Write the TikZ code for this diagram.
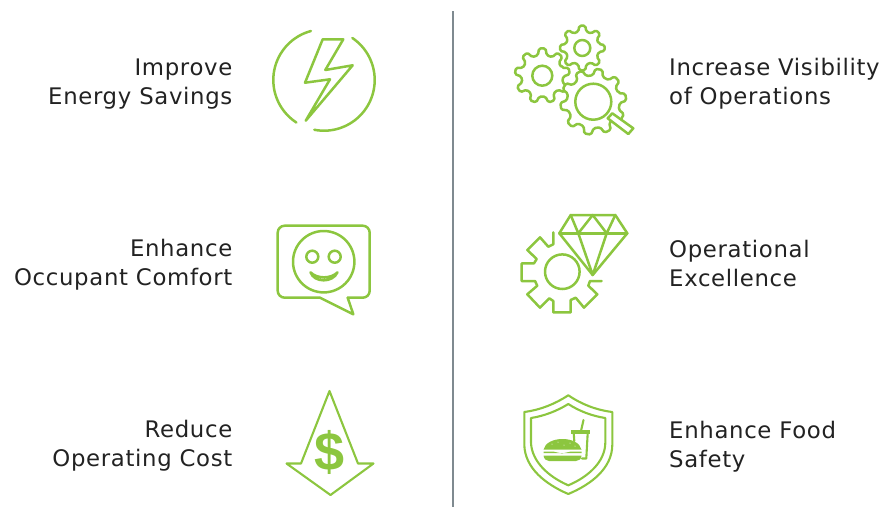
\documentclass[tikz,border=0pt]{standalone}
\usepackage{fontspec}
\setmainfont{DejaVu Sans}[LetterSpace=2.9]
\newfontfamily\dollarfont{Liberation Sans}
\definecolor{leaf}{HTML}{8CC63F}
\definecolor{rulegray}{HTML}{7F8A90}
\definecolor{inkk}{HTML}{222222}
\newcommand{\gearpath}[6]{% cx cy Rout Rin teeth phase
  \pgfmathsetmacro{\gstep}{360/#5}
  \pgfmathsetmacro{\glast}{#5-1}
  \draw[icon,fill=white,rounded corners=1.6pt]
    ({#1+#4*cos(#6-0.30*\gstep)},{#2+#4*sin(#6-0.30*\gstep)})
    \foreach \gi in {0,...,\glast}{
      -- ({#1+#3*cos(#6+\gi*\gstep-0.17*\gstep)},{#2+#3*sin(#6+\gi*\gstep-0.17*\gstep)})
      -- ({#1+#3*cos(#6+\gi*\gstep+0.17*\gstep)},{#2+#3*sin(#6+\gi*\gstep+0.17*\gstep)})
      -- ({#1+#4*cos(#6+\gi*\gstep+0.30*\gstep)},{#2+#4*sin(#6+\gi*\gstep+0.30*\gstep)})
      -- ({#1+#4*cos(#6+\gi*\gstep+0.70*\gstep)},{#2+#4*sin(#6+\gi*\gstep+0.70*\gstep)})
    } -- cycle;
}
\tikzset{
  icon/.style={draw=leaf,line width=2.5pt,line join=round,line cap=round},
  thin icon/.style={draw=leaf,line width=2.1pt,line join=round,line cap=round},
  lefttext/.style={anchor=east,align=right,text=inkk,font=\fontsize{22.8}{29}\selectfont,inner sep=0pt},
  righttext/.style={anchor=west,align=left,text=inkk,font=\fontsize{22.8}{29}\selectfont,inner sep=0pt},
}
\begin{document}
\begin{tikzpicture}[x=1pt,y=-1pt]
\useasboundingbox (0,0) rectangle (879,507);
\coordinate (ruleTop) at (452.5,11);
\coordinate (ruleBot) at (452.5,507);
\draw[rulegray,line width=2pt] (ruleTop) -- (ruleBot);
\node[lefttext] (t1) at (232.5,84.5) {Improve\\Energy Savings};
\node[lefttext] (t2) at (232.5,264.5) {Enhance\\Occupant Comfort};
\node[lefttext] (t3) at (232.5,445.5) {Reduce\\Operating Cost};
\node[righttext] (t4) at (669,83.5) {Increase Visibility\\of Operations};
\node[righttext] (t5) at (669,263.5) {Operational\\Excellence};
\node[righttext] (t6) at (669,446.5) {Enhance Food\\Safety};
% energy
\draw[icon] plot[domain=105:237,samples=40] ({324+50.7*cos(\x)},{80-50.7*sin(\x)});
\draw[icon] plot[domain=56:-101,samples=50] ({324+50.7*cos(\x)},{80-50.7*sin(\x)});
\draw[icon] (322.7,39.3) -- (343.3,39.3) -- (325.3,70) -- (352.7,65.3) -- (305.7,120.7) -- (330,79.3) -- (305,82.7) -- cycle;
% gears
\gearpath{582.3}{48}{22.5}{17}{8}{0}
\draw[icon] (582.3,48) circle[radius=8];
\gearpath{542.3}{75.7}{27.5}{21}{9}{-10}
\draw[icon] (542.3,75.7) circle[radius=10];
\gearpath{593.3}{101.7}{33}{26.5}{10}{-8}
\draw[icon,fill=white] (612.3,113.3) -- (633.3,128.3) -- (628.3,134) -- (607.7,118.3) -- cycle;
\draw[icon,fill=white] (593.3,101.7) circle[radius=18];
% bubble
\draw[icon,rounded corners=7pt] (320,297.7) -- (277.7,297.7) -- (277.7,225.7) -- (369.7,225.7) -- (369.7,297.7) -- (347.7,297.7);
\draw[icon] (320,297.7) -- (353.3,314.3) -- (347.7,297.7);
\draw[icon] (323.7,261.7) circle[radius=30.7];
\draw[icon] (312.3,256.7) circle[radius=6];
\draw[icon] (334.7,256.7) circle[radius=6];
\draw[icon] (310.5,272.3) .. controls (314,283) and (333,283) .. (337.5,272.3) .. controls (331,279) and (317,279) .. cycle;
% diamond and gear
\draw[icon] (570.7,215) -- (615.3,215) -- (627.3,233.3) -- (592.7,275) -- (559.3,233.3) -- cycle;
\draw[icon] (559.3,233.3) -- (627.3,233.3);
\draw[icon] (570.7,215) -- (578.3,233.3) -- (592.7,215) -- (606.7,233.3) -- (615.3,215);
\draw[icon] (578.3,233.3) -- (592.7,275) -- (606.7,233.3);
\draw[icon] (553.3,232.3) -- (553.3,244.3) -- (548.3,246.7) -- (540,237.3) -- (527.3,250) -- (536.7,259) -- (534,263.3) -- (521.7,263.3) -- (521.7,281) -- (535,281) -- (537.3,285.7) -- (527.3,294.3) -- (540,307.7) -- (549.3,298.3) -- (553.3,301) -- (553.3,312.3) -- (570.7,312.3) -- (570.7,300) -- (575.7,297.7) -- (584,307.7) -- (597.3,294.3) -- (588.3,285.7) -- (590,281) -- (601.7,281);
\draw[icon] (562.3,271.7) circle[radius=17.3];
% arrow
\draw[thin icon] (329.5,391) -- (358,463.5) -- (373.5,463.5) -- (330.5,495) -- (286.5,463.5) -- (301,463.5) -- cycle;
\node[text=leaf,inner sep=0pt,font=\dollarfont\bfseries\fontsize{54}{54}\selectfont] (dollar) at (330,452) {\$};
% shield
\draw[thin icon] (568.3,395.3) .. controls (555,404) and (540,410) .. (524.3,412) -- (524.3,445) .. controls (525,468) and (545,484) .. (568.3,494) .. controls (592,484) and (612,468) .. (612.3,445) -- (612.3,412) .. controls (596,410) and (581,404) .. cycle;
\draw[thin icon] (568.3,404) .. controls (557,411) and (544,416) .. (531,418) -- (531,443) .. controls (532,462) and (549,477) .. (568.3,485.3) .. controls (588,477) and (605,462) .. (605.3,443) -- (605.3,418) .. controls (592,416) and (579,411) .. cycle;
\draw[thin icon] (583.5,420) -- (581,431);
\fill[leaf] (571,430) rectangle (590,433.5);
\draw[thin icon] (573.7,433) -- (574.3,441);
\draw[thin icon] (587.7,433) -- (586.3,458.5) -- (582,458.5);
\fill[leaf] (543.5,449.5) .. controls (545,443) and (553,439) .. (562.5,439) .. controls (572,439) and (580,443) .. (581.5,449.5) -- cycle;
\foreach \dx/\dy in {552/444,558/442,564/445,570/443,575/446}{\fill[white] (\dx,\dy) circle[radius=0.5];}
\fill[leaf] (543.5,451.5) -- (553,451.5) -- (562,453.5) -- (571,451.5) -- (581.5,451.5) -- (581.5,453) -- (543.5,453) -- cycle;
\fill[leaf] (543.5,455.5) -- (581.5,455.5) .. controls (581.5,459) and (579,461) .. (576,461) -- (549,461) .. controls (546,461) and (544,459) .. (543.5,455.5) -- cycle;
\end{tikzpicture}
\end{document}
